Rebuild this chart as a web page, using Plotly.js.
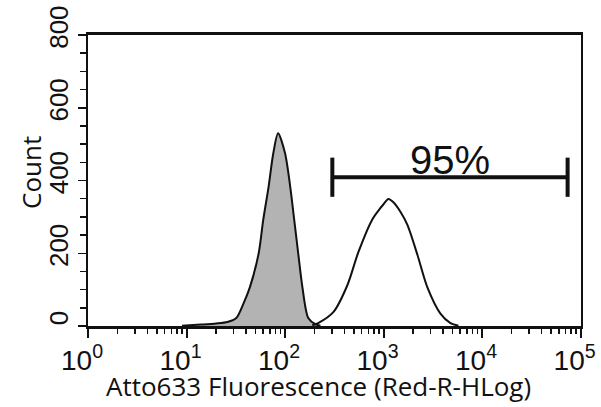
<!DOCTYPE html>
<html>
<head>
<meta charset="utf-8">
<script src="https://cdn.plot.ly/plotly-3.0.1.min.js"></script>
<style>html,body{margin:0;padding:0;background:#fff;}#chart{width:601px;height:407px;}</style>
</head>
<body>
<div id="chart"></div>
<script>
// Control (gray filled) histogram
const fluorescenceControl = [9, 14, 20, 26, 32, 38, 44, 54, 60, 68, 76, 85, 100, 113, 124, 136, 150, 172, 203, 229];
const countControl = [1, 4, 7, 11, 22, 63, 107, 200, 291, 382, 475, 530, 475, 382, 291, 200, 107, 22, 5, 1];
// Stained (open) histogram
const fluorescenceStained = [189, 217, 309, 429, 555, 769, 927, 995, 1119, 1259, 1482, 1746, 2205, 2786, 3777, 4775, 5754];
const countStained = [2, 8, 38, 112, 203, 293, 324, 334, 349, 340, 314, 278, 196, 106, 34, 8, 1];
// Gate marker
const gateRange = [302, 73800];
const gateCount = 409;
const gateLabel = '95%';
// Axis ticks and titles
const xTickVals = [1, 10, 100, 1000, 10000, 100000];
const xTickText = ['10<sup>0</sup>', '10<sup>1</sup>', '10<sup>2</sup>', '10<sup>3</sup>', '10<sup>4</sup>', '10<sup>5</sup>'];
const xMinorTickVals = [2, 3, 4, 5, 6, 7, 8, 9,
  20, 30, 40, 50, 60, 70, 80, 90,
  200, 300, 400, 500, 600, 700, 800, 900,
  2000, 3000, 4000, 5000, 6000, 7000, 8000, 9000,
  20000, 30000, 40000, 50000, 60000, 70000, 80000, 90000];
const yTickVals = [0, 200, 400, 600, 800];
const xTitle = 'Atto633 Fluorescence (Red-R-HLog)';
const yTitle = 'Count';

const traces = [
  {
    x: fluorescenceControl, y: countControl, type: 'scatter', mode: 'lines',
    line: {color: '#111', width: 2, shape: 'spline', smoothing: 0.8},
    fill: 'tozeroy', fillcolor: '#b3b3b3', hoverinfo: 'skip'
  },
  {
    x: fluorescenceStained, y: countStained, type: 'scatter', mode: 'lines',
    line: {color: '#111', width: 2, shape: 'spline', smoothing: 0.8}, hoverinfo: 'skip'
  },
  {
    x: gateRange, y: [gateCount, gateCount], type: 'scatter', mode: 'lines+markers',
    line: {color: '#111', width: 4},
    marker: {symbol: 'line-ns', size: 28, color: '#111', line: {color: '#111', width: 4}},
    hoverinfo: 'skip', cliponaxis: false
  }
];

const plotW = 601 - 88 - 20, plotH = 407 - 35 - 81;
const layout = {
  width: 601, height: 407,
  margin: {l: 88, r: 20, t: 35, b: 81},
  paper_bgcolor: '#ffffff', plot_bgcolor: '#ffffff',
  showlegend: false,
  xaxis: {
    type: 'log', range: [0, 5.004],
    tickmode: 'array', tickvals: xTickVals, ticktext: xTickText,
    ticklabeloverflow: 'allow', ticklabelshift: -6, ticklabelstandoff: -2,
    ticks: 'outside', ticklen: 9, tickwidth: 2, tickcolor: '#111',
    minor: {tickmode: 'array', tickvals: xMinorTickVals, ticks: 'outside', ticklen: 5, tickwidth: 1.5, tickcolor: '#111', showgrid: false},
    showline: true, linewidth: 3, linecolor: '#111', mirror: true,
    showgrid: false, zeroline: false,
    tickfont: {family: 'Liberation Sans, Arial, sans-serif', size: 28, color: '#111'}
  },
  yaxis: {
    range: [0, 800], tickmode: 'array', tickvals: yTickVals,
    tickangle: -90, ticklabelshift: -4,
    ticks: 'outside', ticklen: 8, tickwidth: 1.5, tickcolor: '#111',
    minor: {ticks: 'outside', ticklen: 6, tickwidth: 1.5, tickcolor: '#111', dtick: 50, showgrid: false},
    showline: true, linewidth: 2, linecolor: '#111', mirror: true,
    showgrid: false, zeroline: false,
    tickfont: {family: 'Liberation Sans, Arial, sans-serif', size: 26, color: '#111'}
  },
  annotations: [
    {text: gateLabel, x: 3.67, y: gateCount, xref: 'x', yref: 'y', xanchor: 'center', yanchor: 'bottom', yshift: -7,
     showarrow: false, font: {family: 'Liberation Sans, Arial, sans-serif', size: 40, color: '#111'}},
    {text: xTitle, xref: 'paper', yref: 'paper', xanchor: 'center', yanchor: 'bottom',
     x: (318 - 88) / plotW, y: (326 - 406) / plotH, showarrow: false,
     font: {family: 'Open Sans, sans-serif', size: 26, color: '#111'}},
    {text: yTitle, xref: 'paper', yref: 'paper', xanchor: 'center', yanchor: 'middle', textangle: -90,
     x: (31 - 88) / plotW, y: (326 - 173) / plotH, showarrow: false,
     font: {family: 'Open Sans, sans-serif', size: 26, color: '#111'}}
  ]
};

Plotly.newPlot('chart', traces, layout, {staticPlot: true});
</script>
</body>
</html>
